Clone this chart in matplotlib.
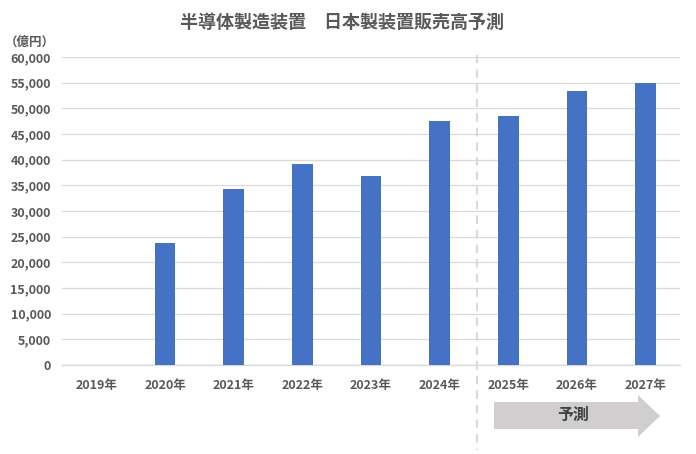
import matplotlib
matplotlib.use("Agg")
import matplotlib.pyplot as plt
from matplotlib.patches import Polygon
from matplotlib.lines import Line2D
import numpy as np

plt.rcParams['font.family'] = ['Noto Sans CJK JP', 'DejaVu Sans']

categories = ["2019年", "2020年", "2021年", "2022年", "2023年", "2024年", "2025年", "2026年", "2027年"]
values = [np.nan, 23800, 34300, 39100, 36800, 47500, 48500, 53300, 55000]
yticks = [0, 5000, 10000, 15000, 20000, 25000, 30000, 35000, 40000, 45000, 50000, 55000, 60000]
title = "半導体製造装置　日本製装置販売高予測"
unit_label = "（億円）"
forecast_label = "予測"

W, H = 696, 454
fig = plt.figure(figsize=(W / 100, H / 100), dpi=100)
ax = fig.add_axes([62 / W, 1 - 365 / H, (680 - 62) / W, (365 - 57) / H])

text_color = "#595959"
x = np.arange(len(categories))
ax.bar(x, values, width=0.3, color="#4472C4", zorder=3)

ax.set_xlim(-0.5, len(categories) - 0.5)
ax.set_ylim(0, 60000)
ax.set_yticks(yticks)
ax.set_yticklabels([f"{v:,}" for v in yticks])
ax.set_xticks(x)
ax.set_xticklabels(categories)
ax.tick_params(axis='both', length=0, labelsize=9, colors=text_color)
ax.tick_params(axis='x', pad=10)
ax.tick_params(axis='y', pad=8)
for lab in ax.get_xticklabels() + ax.get_yticklabels():
    lab.set_fontweight('bold')
ax.grid(axis='y', color="#d9d9d9", linewidth=0.9, zorder=0)
for s in ['top', 'right', 'left']:
    ax.spines[s].set_visible(False)
ax.spines['bottom'].set_color("#d9d9d9")
ax.spines['bottom'].set_linewidth(1.0)

# dashed separator between actual and forecast
sep_x = 5.55
trans = ax.get_xaxis_transform()
ax.add_line(Line2D([sep_x, sep_x], [(365 - 55) / 308, -(450 - 365) / 308],
                   transform=trans, color="#d9d9d9", linestyle=(0, (4, 3)),
                   linewidth=1.5, clip_on=False, zorder=1))

# forecast arrow (figure pixel coordinates)
def fx(px):
    return px / W

def fy(py):
    return 1 - py / H

arrow_pts = [(494, 402), (638, 402), (638, 395), (660, 416), (638, 437), (638, 429), (494, 429)]
fig.patches.append(Polygon([(fx(a), fy(b)) for a, b in arrow_pts], closed=True,
                           transform=fig.transFigure, facecolor="#d0cece",
                           edgecolor="none", figure=fig))
fig.text(fx(573), fy(415), forecast_label, ha='center', va='center', fontsize=11.5,
         fontweight='bold', color="#404040")

fig.text(fx(342), fy(22), title, ha='center', va='center', fontsize=13,
         fontweight='bold', color=text_color)
fig.text(fx(30), fy(42), unit_label, ha='center', va='center', fontsize=9,
         fontweight='bold', color=text_color)

fig.savefig("out.png", dpi=100, facecolor="white")
